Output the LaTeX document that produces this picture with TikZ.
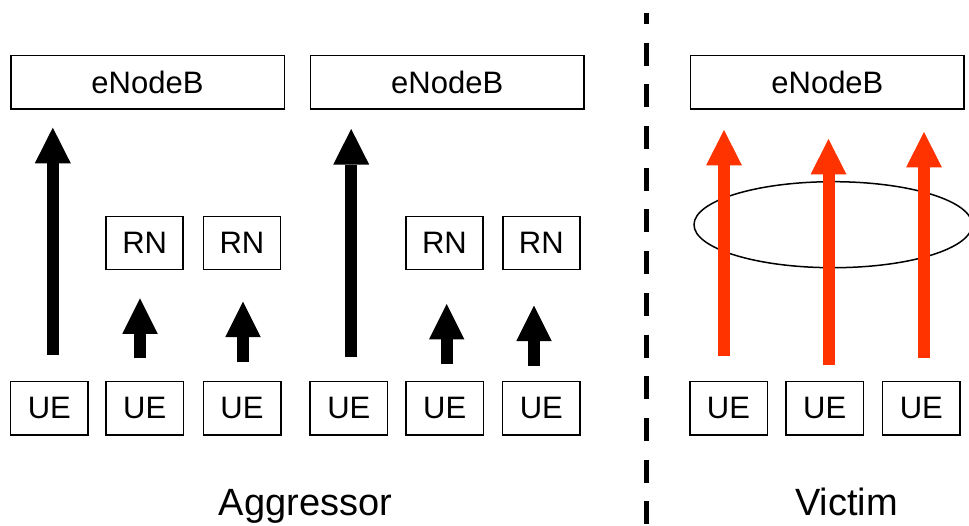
\documentclass[tikz,border=0pt]{standalone}
\usepackage{fontspec}
\setmainfont{Liberation Sans}
\usetikzlibrary{arrows.meta,shapes.geometric}
\definecolor{victimred}{HTML}{FF3300}
\begin{document}
\begin{tikzpicture}[x=1pt,y=-1pt,
  box/.style={draw=black,line width=1.5pt,fill=white,inner sep=0pt,
    font=\fontsize{31}{31}\selectfont},
  enb/.style={box,minimum width=273.5pt,minimum height=53.3pt},
  rnbox/.style={box,minimum width=77pt,minimum height=52.6pt},
  uebox/.style={box,minimum width=77.5pt,minimum height=53.3pt},
  biglink/.style={line width=12.3pt,line cap=butt,draw=black,
    -{Triangle[length=35.6pt,width=36pt,line width=0pt]}},
  smalllink/.style={line width=11.7pt,line cap=butt,draw=black,
    -{Triangle[length=35.5pt,width=35.5pt,line width=0pt]}},
  redlink/.style={line width=12pt,line cap=butt,draw=victimred,
    -{Triangle[length=35.5pt,width=36pt,line width=0pt]}},
  caption/.style={anchor=base,font=\fontsize{38}{38}\selectfont}]
\useasboundingbox (0,0) rectangle (969,526);

% eNodeBs
\node[enb] (enb1) at (147.5,82.4) {eNodeB};
\node[enb] (enb2) at (447.2,82.4) {eNodeB};
\node[enb] (enb3) at (827.4,82.4) {eNodeB};

% RNs
\node[rnbox] (rn1) at (144.7,243) {RN};
\node[rnbox] (rn2) at (242,243) {RN};
\node[rnbox] (rn3) at (444.5,243) {RN};
\node[rnbox] (rn4) at (541.3,243) {RN};

% UEs
\node[uebox] (ue1) at (49.3,408.3) {UE};
\node[uebox] (ue2) at (144.7,408.3) {UE};
\node[uebox] (ue3) at (242,408.3) {UE};
\node[uebox] (ue4) at (348.8,408.3) {UE};
\node[uebox] (ue5) at (444.7,408.3) {UE};
\node[uebox] (ue6) at (541.3,408.3) {UE};
\node[uebox] (ue7) at (728.5,408.3) {UE};
\node[uebox] (ue8) at (824.7,408.3) {UE};
\node[uebox] (ue9) at (921.3,408.3) {UE};

% ellipse
\node[draw=black,line width=1.5pt,ellipse,minimum width=278pt,minimum height=86pt,inner sep=0pt] (grp) at (833,224.7) {};

% arrow end points
\coordinate (a1s) at (52.8,355);   \coordinate (a1e) at (52.8,127.7);
\coordinate (a2s) at (351.2,356.7); \coordinate (a2e) at (351.2,129);
\coordinate (s1s) at (140,358.3);  \coordinate (s1e) at (140,298.3);
\coordinate (s2s) at (243,361.7);  \coordinate (s2e) at (243,301.7);
\coordinate (s3s) at (446.7,364.3); \coordinate (s3e) at (446.7,304);
\coordinate (s4s) at (534,366);    \coordinate (s4e) at (534,305.7);
\coordinate (r1s) at (724,356);    \coordinate (r1e) at (724,130);
\coordinate (r2s) at (828.5,365);  \coordinate (r2e) at (828.5,139);
\coordinate (r3s) at (924,357.7);  \coordinate (r3e) at (924,132);

\draw[biglink] (a1s) -- (a1e);
\draw[biglink] (a2s) -- (a2e);
\draw[smalllink] (s1s) -- (s1e);
\draw[smalllink] (s2s) -- (s2e);
\draw[smalllink] (s3s) -- (s3e);
\draw[smalllink] (s4s) -- (s4e);
\draw[redlink] (r1s) -- (r1e);
\draw[redlink] (r2s) -- (r2e);
\draw[redlink] (r3s) -- (r3e);

% divider
\coordinate (divtop) at (646.7,12.7);
\coordinate (divbot) at (646.7,530);
\draw[line width=5.5pt,dash pattern=on 23pt off 18.7pt,dash phase=11.7pt] (divtop) -- (divbot);

% captions
\node[caption] (agg) at (305.5,515) {Aggressor};
\node[caption] (vic) at (846.7,515) {Victim};
\end{tikzpicture}
\end{document}
